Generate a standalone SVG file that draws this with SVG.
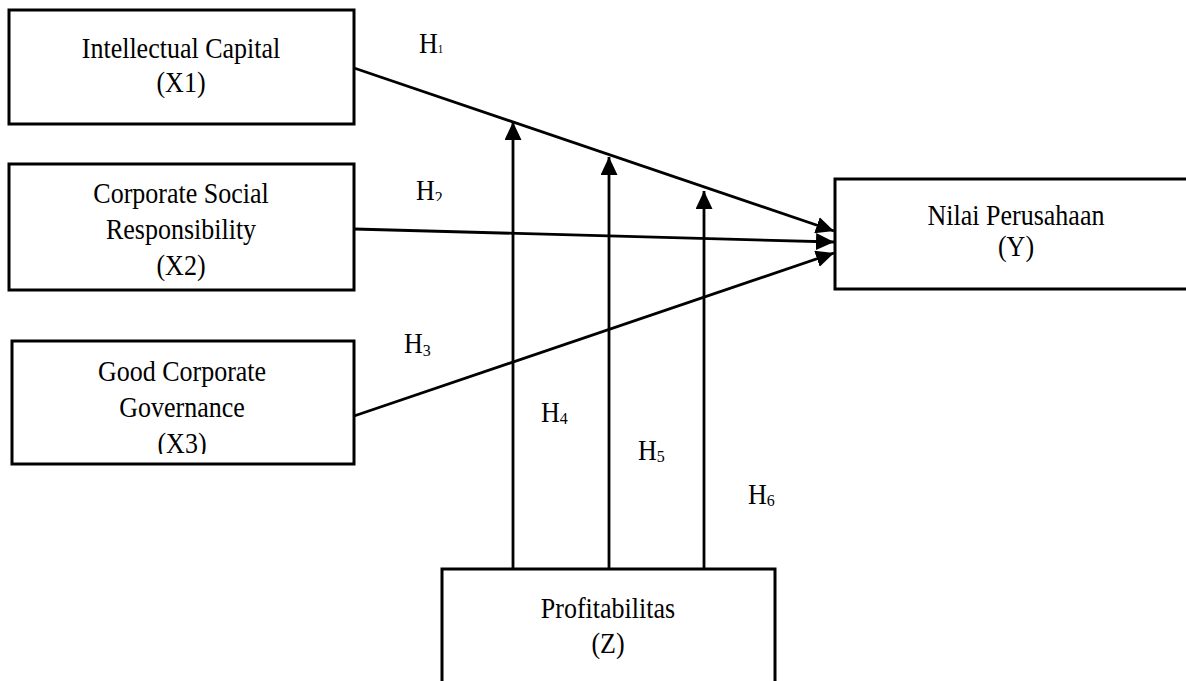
<svg xmlns="http://www.w3.org/2000/svg" width="1186" height="681" viewBox="0 0 1186 681">
<style>
.box{fill:#fff;stroke:#000;stroke-width:3}
.t{font-family:"Liberation Serif","Times New Roman",serif;font-size:26px;fill:#000;text-anchor:middle}
.h{font-family:"Liberation Serif","Times New Roman",serif;font-size:26px;fill:#000}
.sub{font-size:16px}
.c{fill:none;stroke:#000;stroke-width:2.8}
</style>
<defs>
<marker id="ah" markerUnits="userSpaceOnUse" markerWidth="19" markerHeight="17" refX="18" refY="8.5" orient="auto">
<path d="M0,0 L18,8.5 L0,17 z" fill="#000"/>
</marker>
<clipPath id="clipX3"><rect x="0" y="330" width="360" height="124"/></clipPath>
<clipPath id="clipH2"><rect x="400" y="170" width="60" height="31"/></clipPath>
</defs>
<g id="connectors">
<line class="c" x1="354" y1="68" x2="834" y2="231" marker-end="url(#ah)"/>
<line class="c" x1="354" y1="229" x2="834" y2="242" marker-end="url(#ah)"/>
<line class="c" x1="354" y1="416" x2="834" y2="253" marker-end="url(#ah)"/>
<line class="c" x1="513" y1="569" x2="513" y2="122" marker-end="url(#ah)"/>
<line class="c" x1="609" y1="569" x2="609" y2="157" marker-end="url(#ah)"/>
<line class="c" x1="704" y1="569" x2="704" y2="191" marker-end="url(#ah)"/>
</g>
<g id="labels">
<text class="h" transform="translate(419,53) scale(1,1.1)">H<tspan font-size="11">1</tspan></text>
<g clip-path="url(#clipH2)"><text class="h" transform="translate(416,200) scale(1,1.1)">H<tspan class="sub" dy="3">2</tspan></text></g>
<text class="h" transform="translate(404,353) scale(1,1.1)">H<tspan class="sub" dy="3">3</tspan></text>
<text class="h" transform="translate(541,422) scale(1,1.1)">H<tspan class="sub" dy="2">4</tspan></text>
<text class="h" transform="translate(638,460) scale(1,1.1)">H<tspan class="sub" dy="2">5</tspan></text>
<text class="h" transform="translate(748,504) scale(1,1.1)">H<tspan class="sub" dy="2">6</tspan></text>
</g>
<g id="nodeX1">
<rect class="box" x="9" y="10" width="345" height="114"/>
<text class="t" transform="translate(181,58) scale(1,1.1)">Intellectual Capital</text>
<text class="t" transform="translate(181,92) scale(1,1.1)">(X1)</text>
</g>
<g id="nodeX2">
<rect class="box" x="9" y="164" width="345" height="126"/>
<text class="t" transform="translate(181,203) scale(1,1.1)">Corporate Social</text>
<text class="t" transform="translate(181,239) scale(1,1.1)">Responsibility</text>
<text class="t" transform="translate(181,275) scale(1,1.1)">(X2)</text>
</g>
<g id="nodeX3">
<rect class="box" x="12" y="341" width="342" height="123"/>
<text class="t" transform="translate(182,381) scale(1,1.1)">Good Corporate</text>
<text class="t" transform="translate(182,417) scale(1,1.1)">Governance</text>
<g clip-path="url(#clipX3)"><text class="t" transform="translate(182,453) scale(1,1.1)">(X3)</text></g>
</g>
<g id="nodeY">
<rect class="box" x="835" y="179" width="360" height="110"/>
<text class="t" transform="translate(1016,225) scale(1,1.1)">Nilai Perusahaan</text>
<text class="t" transform="translate(1016,256) scale(1,1.1)">(Y)</text>
</g>
<g id="nodeZ">
<rect class="box" x="442" y="569" width="333" height="130"/>
<text class="t" transform="translate(608,618) scale(1,1.1)">Profitabilitas</text>
<text class="t" transform="translate(608,653) scale(1,1.1)">(Z)</text>
</g>
</svg>
